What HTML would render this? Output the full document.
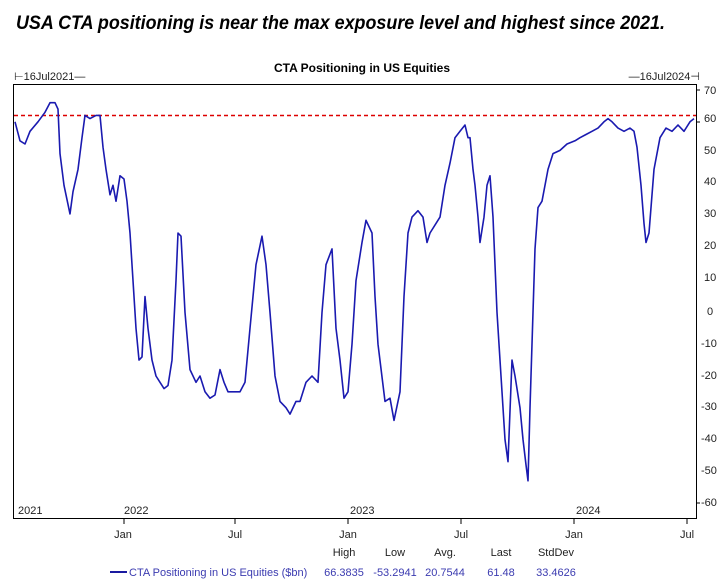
<!DOCTYPE html>
<html><head><meta charset="utf-8"><style>body{margin:0;background:#fff}svg{display:block}</style></head>
<body>
<svg width="722" height="584" xmlns="http://www.w3.org/2000/svg" font-family="Liberation Sans, sans-serif">
<text x="16" y="29" font-size="19" font-weight="bold" font-style="italic" textLength="649" lengthAdjust="spacingAndGlyphs" fill="#000">USA CTA positioning is near the max exposure level and highest since 2021.</text>
<text x="362" y="72" font-size="12" font-weight="bold" text-anchor="middle" textLength="176" lengthAdjust="spacingAndGlyphs">CTA Positioning in US Equities</text>
<text x="14" y="80" font-size="11" fill="#222">⊢16Jul2021—</text>
<text x="700" y="80" font-size="11" fill="#222" text-anchor="end">—16Jul2024⊣</text>
<rect x="13.5" y="84.5" width="683" height="434" fill="none" stroke="#000" stroke-width="1"/>
<line x1="14" y1="115.5" x2="696" y2="115.5" stroke="#d00" stroke-width="1.6" stroke-dasharray="4,3"/>
<g font-size="11" fill="#222">
<text x="704" y="94">70</text><text x="704" y="122">60</text><text x="704" y="154">50</text><text x="704" y="185">40</text><text x="704" y="217">30</text><text x="704" y="249">20</text><text x="704" y="281">10</text><text x="707" y="315">0</text><text x="701" y="347">-10</text><text x="701" y="379">-20</text><text x="701" y="410">-30</text><text x="701" y="442">-40</text><text x="701" y="474">-50</text><text x="701" y="506">-60</text>
</g>
<g stroke="#000"><line x1="696" y1="90" x2="700" y2="90"/><line x1="696" y1="122" x2="700" y2="122"/><line x1="696" y1="503" x2="700" y2="503"/>
<line x1="124" y1="518" x2="124" y2="524"/><line x1="235" y1="518" x2="235" y2="524"/><line x1="348" y1="518" x2="348" y2="524"/><line x1="461" y1="518" x2="461" y2="524"/><line x1="574" y1="518" x2="574" y2="524"/><line x1="687" y1="518" x2="687" y2="524"/></g>
<g font-size="11" fill="#222">
<text x="18" y="514">2021</text><text x="124" y="514">2022</text><text x="350" y="514">2023</text><text x="576" y="514">2024</text>
<text x="123" y="538" text-anchor="middle">Jan</text><text x="235" y="538" text-anchor="middle">Jul</text><text x="348" y="538" text-anchor="middle">Jan</text><text x="461" y="538" text-anchor="middle">Jul</text><text x="574" y="538" text-anchor="middle">Jan</text><text x="687" y="538" text-anchor="middle">Jul</text>
<text x="344" y="556" text-anchor="middle">High</text><text x="395" y="556" text-anchor="middle">Low</text><text x="445" y="556" text-anchor="middle">Avg.</text><text x="501" y="556" text-anchor="middle">Last</text><text x="556" y="556" text-anchor="middle">StdDev</text>
</g>
<line x1="110" y1="572" x2="127" y2="572" stroke="#1a1aa0" stroke-width="2"/>
<g font-size="11" fill="#3b3bb0">
<text x="129" y="576">CTA Positioning in US Equities ($bn)</text>
<text x="344" y="576" text-anchor="middle">66.3835</text><text x="395" y="576" text-anchor="middle">-53.2941</text><text x="445" y="576" text-anchor="middle">20.7544</text><text x="501" y="576" text-anchor="middle">61.48</text><text x="556" y="576" text-anchor="middle">33.4626</text>
</g>
<polyline fill="none" stroke="#1a1ab0" stroke-width="1.6" stroke-linejoin="round" points="15,121.8 20,140.8 25,144 30,131.3 38,121.8 45,112.3 50,102.7 55,102.7 58,109.1 60,153.6 64,185.3 70,213.9 73,191.7 78,169.4 82,137.7 85,115.4 90,118.6 96,115.4 100,115.4 103,147.2 106,169.4 110,194.8 113,185.3 116,201.2 120,175.8 124,179 127,201.2 130,233 133,280.6 136,328.3 139,360.1 142,356.9 145,296.5 148,328.3 152,360.1 156,376 160,382.3 164,388.6 168,385.5 172,360.1 176,280.6 178,233 181,236.2 185,312.4 190,369.6 196,382.3 200,376 205,391.8 210,398.2 215,395 220,369.6 224,382.3 228,391.8 233,391.8 240,391.8 245,382.3 250,328.3 256,264.7 262,236.2 266,264.7 270,312.4 275,376 280,401.4 286,407.7 290,414.1 296,401.4 300,401.4 306,382.3 312,376 318,382.3 322,312.4 326,264.7 332,248.9 336,328.3 340,360.1 344,398.2 348,391.8 352,344.2 356,280.6 362,242.5 366,220.3 372,233 375,296.5 378,344.2 385,401.4 390,398.2 394,420.4 400,391.8 404,296.5 408,233 412,217.1 418,210.7 423,217.1 427,242.5 430,233 436,223.4 440,217.1 445,185.3 450,163.1 455,137.7 460,131.3 465,125 468,137.7 470,137.7 473,169.4 475,185.3 478,217.1 480,242.5 484,217.1 487,185.3 490,175.8 493,217.1 497,312.4 501,376 505,439.5 508,461.7 512,360.1 515,376 520,407.7 523,439.5 526,464.9 528,480.8 530,407.7 533,312.4 535,248.9 538,207.6 542,201.2 548,169.4 553,153.6 560,150.4 567,144 575,140.8 580,137.7 586,134.5 592,131.3 598,128.1 604,121.8 608,118.6 612,121.8 618,128.1 624,131.3 630,128.1 634,131.3 637,147.2 641,185.3 644,223.4 646,242.5 649,233 654,169.4 660,137.7 666,128.1 672,131.3 678,125 684,131.3 690,121.8 694,118.6"/>
</svg>
</body></html>
